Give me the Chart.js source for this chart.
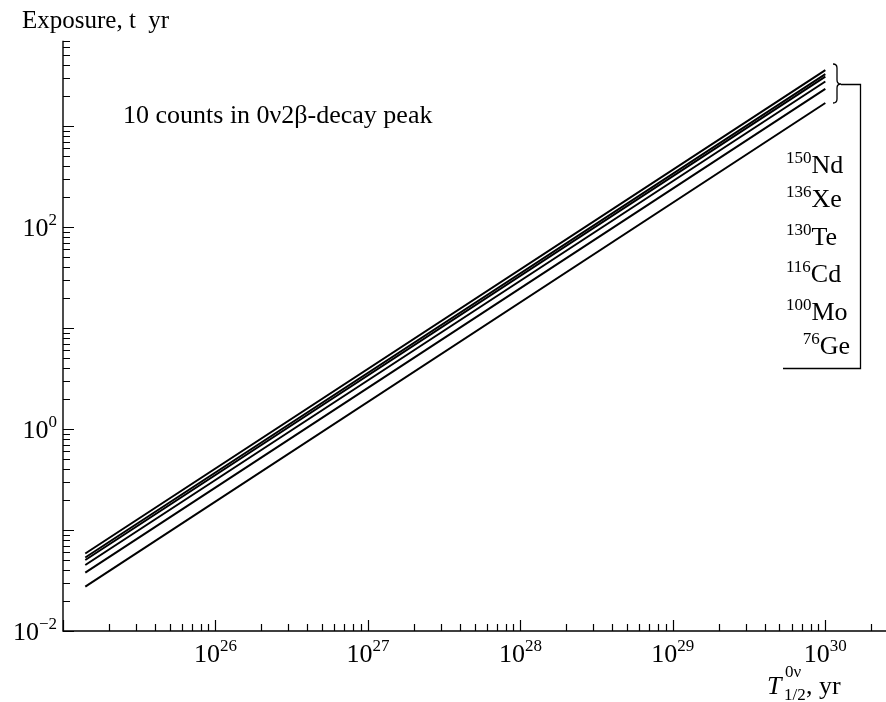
<!DOCTYPE html>
<html lang="en">
<head>
    <meta charset="UTF-8">
    <title>Exposure vs half-life</title>
    <script src="https://cdn.jsdelivr.net/npm/chart.js"></script>
    <style>
        body {
            margin: 0;
            padding: 0;
            background-color: white;
        }
        #chart {
            display: block;
        }
    </style>
</head>
<body>
    <canvas id="chart" width="886" height="702"></canvas>

    <script>
        // isotopes, top line to bottom line
        const massNumbers = ['150', '136', '130', '116', '100', '76'];
        const elements = ['Nd', 'Xe', 'Te', 'Cd', 'Mo', 'Ge'];

        // half-life range covered by every line (yr)
        const halfLives = [1.4e25, 1e30];

        // exposure (t yr) at the start and at the end of each line
        const exposureStart = [0.0585, 0.0534, 0.0505, 0.0450, 0.0379, 0.0275];
        const exposureEnd = [3580, 3270, 3090, 2760, 2330, 1690];

        // labelled decades
        const xTickExponents = [26, 27, 28, 29, 30];
        const yTickExponents = [-2, 0, 2];

        const SERIF = '"Liberation Serif", "Times New Roman", serif';

        const datasets = elements.map((el, i) => ({
            label: massNumbers[i] + el,
            data: [
                { x: halfLives[0], y: exposureStart[i] },
                { x: halfLives[1], y: exposureEnd[i] }
            ],
            showLine: true,
            borderColor: '#000',
            borderWidth: 2,
            pointRadius: 0,
            fill: false
        }));

        // "10" with a raised exponent
        function powerLabel(ctx, base, exp, x, y, size, align) {
            ctx.font = size + 'px ' + SERIF;
            const wb = ctx.measureText(base).width;
            const small = Math.round(size * 0.66);
            ctx.font = small + 'px ' + SERIF;
            const we = ctx.measureText(exp).width;
            let left = x;
            if (align === 'right') left = x - wb - we;
            if (align === 'center') left = x - (wb + we) / 2;
            ctx.textAlign = 'left';
            ctx.textBaseline = 'alphabetic';
            ctx.font = size + 'px ' + SERIF;
            ctx.fillText(base, left, y);
            ctx.font = small + 'px ' + SERIF;
            ctx.fillText(exp, left + wb, y - size * 0.42);
        }

        // mass number raised before the element symbol
        function isotopeLabel(ctx, mass, el, x, y, align) {
            ctx.font = '17px ' + SERIF;
            const wm = ctx.measureText(mass).width;
            ctx.font = '26px ' + SERIF;
            const we = ctx.measureText(el).width;
            const left = align === 'right' ? x - wm - we : x;
            ctx.textAlign = 'left';
            ctx.font = '17px ' + SERIF;
            ctx.fillText(mass, left, y - 10);
            ctx.font = '26px ' + SERIF;
            ctx.fillText(el, left + wm, y);
        }

        const axesPlugin = {
            id: 'paperAxes',
            afterDraw(chart) {
                const ctx = chart.ctx;
                const xs = chart.scales.x;
                const ys = chart.scales.y;
                const area = chart.chartArea;
                ctx.save();
                ctx.strokeStyle = '#000';
                ctx.fillStyle = '#000';
                ctx.lineWidth = 1.4;

                // axis lines
                ctx.beginPath();
                ctx.moveTo(area.left, area.top);
                ctx.lineTo(area.left, area.bottom);
                ctx.lineTo(area.right, area.bottom);
                ctx.stroke();

                // inward ticks, longer at each decade
                ctx.lineWidth = 1.2;
                ctx.beginPath();
                for (let k = -2; k <= 3; k++) {
                    for (let m = 1; m <= 9; m++) {
                        const v = m * Math.pow(10, k);
                        if (v < ys.min * 0.999 || v > ys.max * 1.001) continue;
                        const py = Math.round(ys.getPixelForValue(v)) + 0.5;
                        const len = m === 1 ? 11 : 7;
                        ctx.moveTo(area.left, py);
                        ctx.lineTo(area.left + len, py);
                    }
                }
                for (let k = 25; k <= 30; k++) {
                    for (let m = 1; m <= 9; m++) {
                        const v = m * Math.pow(10, k);
                        if (v < xs.min * 0.999 || v > xs.max * 1.001) continue;
                        const px = Math.round(xs.getPixelForValue(v)) + 0.5;
                        const len = m === 1 ? 11 : 7;
                        ctx.moveTo(px, area.bottom);
                        ctx.lineTo(px, area.bottom - len);
                    }
                }
                ctx.stroke();

                // tick labels
                yTickExponents.forEach(e => {
                    const py = ys.getPixelForValue(Math.pow(10, e));
                    powerLabel(ctx, '10', e < 0 ? '\u2212' + (-e) : String(e), 57, py + 9, 26, 'right');
                });
                xTickExponents.forEach(e => {
                    const px = xs.getPixelForValue(Math.pow(10, e));
                    powerLabel(ctx, '10', String(e), px, area.bottom + 31, 26, 'center');
                });

                // axis titles
                ctx.textAlign = 'left';
                ctx.font = '25px ' + SERIF;
                ctx.fillText('Exposure, t  yr', 22, 28);

                ctx.font = 'italic 26px ' + SERIF;
                ctx.fillText('T', 767, 694);
                ctx.font = '17px ' + SERIF;
                ctx.fillText('0\u03bd', 785, 677);
                ctx.fillText('1/2', 784, 700);
                ctx.font = '26px ' + SERIF;
                ctx.fillText(', yr', 806, 694);

                // annotation
                ctx.font = '26px ' + SERIF;
                ctx.fillText('10 counts in 0\u03bd2\u03b2-decay peak', 123, 123);

                // brace and bracket
                ctx.lineWidth = 1.3;
                ctx.beginPath();
                ctx.moveTo(833, 64);
                ctx.quadraticCurveTo(837, 64, 837, 68);
                ctx.lineTo(837, 80);
                ctx.quadraticCurveTo(837, 84, 841, 84);
                ctx.quadraticCurveTo(837, 84, 837, 88);
                ctx.lineTo(837, 99);
                ctx.quadraticCurveTo(837, 103, 833, 103);
                ctx.stroke();
                ctx.beginPath();
                ctx.moveTo(841, 84.5);
                ctx.lineTo(860.5, 84.5);
                ctx.lineTo(860.5, 368.5);
                ctx.lineTo(783, 368.5);
                ctx.stroke();

                // isotope list
                const rows = [173, 207, 245, 282, 320, 354];
                elements.forEach((el, i) => {
                    if (i === elements.length - 1) {
                        isotopeLabel(ctx, massNumbers[i], el, 850, rows[i], 'right');
                    } else {
                        isotopeLabel(ctx, massNumbers[i], el, 786, rows[i], 'left');
                    }
                });

                ctx.restore();
            }
        };

        new Chart(document.getElementById('chart'), {
            type: 'scatter',
            data: { datasets: datasets },
            options: {
                responsive: false,
                animation: false,
                layout: {
                    padding: { left: 63, top: 40.7, right: 0, bottom: 71 }
                },
                plugins: {
                    legend: { display: false },
                    tooltip: { enabled: false }
                },
                scales: {
                    x: { type: 'logarithmic', min: 1e25, max: 2.5e30, display: false },
                    y: { type: 'logarithmic', min: 0.01, max: 7000, display: false }
                }
            },
            plugins: [axesPlugin]
        });
    </script>
</body>
</html>
